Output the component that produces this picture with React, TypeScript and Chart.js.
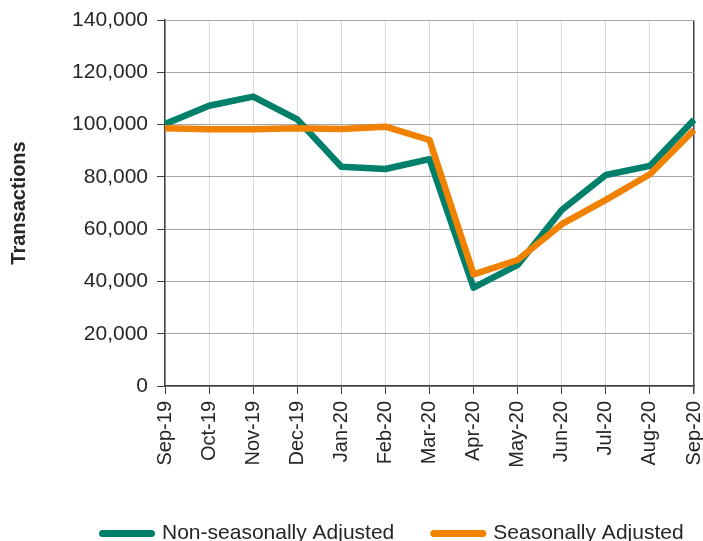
import React, { useEffect, useRef } from "react";
import { Chart, registerables } from "chart.js";

Chart.register(...registerables);

const categories = ["Sep-19", "Oct-19", "Nov-19", "Dec-19", "Jan-20", "Feb-20", "Mar-20", "Apr-20", "May-20", "Jun-20", "Jul-20", "Aug-20", "Sep-20"];
const nonSeasonal = [100200, 107200, 110700, 102000, 83900, 83000, 86800, 37600, 46300, 67300, 80700, 84200, 101800];
const seasonal = [98600, 98200, 98200, 98600, 98300, 99200, 94100, 42700, 48200, 61900, 71200, 81000, 97900];
const seriesNames = ["Non-seasonally Adjusted", "Seasonally Adjusted"];
const yTitle = "Transactions";

const GREEN = "#00806A";
const ORANGE = "#F08200";
const TEXT = "#262626";
const AXIS = "#404040";
const FONT = "'Liberation Sans', Arial, sans-serif";

const legendPos = {
  id: "legendPos",
  afterLayout(chart: any) {
    const l = chart.legend;
    if (!l) return;
    const h = l.height;
    l.left = 63;
    l.right = 1000;
    l.top = 483.5;
    l.bottom = l.top + h;
  },
};

export default function App() {
  const ref = useRef<HTMLCanvasElement | null>(null);
  useEffect(() => {
    if (!ref.current) return;
    const chart = new Chart(ref.current, {
      type: "line",
      data: {
        labels: categories,
        datasets: [
          {
            label: seriesNames[0],
            data: nonSeasonal,
            borderColor: GREEN,
            backgroundColor: GREEN,
            borderWidth: 6.5,
            pointRadius: 0,
            tension: 0,
            borderJoinStyle: "round",
            order: 1,
          },
          {
            label: seriesNames[1],
            data: seasonal,
            borderColor: ORANGE,
            backgroundColor: ORANGE,
            borderWidth: 6.5,
            pointRadius: 0,
            tension: 0,
            borderJoinStyle: "round",
            order: 0,
          },
        ],
      },
      options: {
        responsive: false,
        animation: false,
        layout: { padding: { left: 0, right: 9, top: 20, bottom: 0 } },
        plugins: {
          tooltip: { enabled: false },
          legend: {
            position: "bottom",
            align: "start",
            labels: {
              boxWidth: 49,
              boxHeight: 0,
              padding: 39.5,
              color: TEXT,
              font: { family: FONT, size: 21 },
              generateLabels: (c: any) =>
                c.data.datasets.map((d: any, i: number) => ({
                  text: d.label,
                  fillStyle: d.borderColor,
                  strokeStyle: d.borderColor,
                  lineWidth: 7,
                  lineJoin: "round",
                  lineCap: "round",
                  hidden: false,
                  datasetIndex: i,
                  fontColor: TEXT,
                })),
            },
          },
        },
        scales: {
          x: {
            type: "category",
            offset: false,
            afterFit: (s: any) => {
              s.height = 84.5;
              s.paddingLeft = 0;
              s.paddingRight = 0;
            },
            grid: {
              color: (ctx: any) => (ctx.index === categories.length - 1 ? AXIS : "#D9D9D9"),
              lineWidth: (ctx: any) => (ctx.index === categories.length - 1 ? 1.5 : 1),
              tickColor: AXIS,
              tickLength: 8,
              drawTicks: true,
            },
            border: { display: true, color: AXIS, width: 1.5 },
            ticks: {
              autoSkip: false,
              maxRotation: 90,
              minRotation: 90,
              padding: 7,
              color: TEXT,
              font: { family: FONT, size: 20 },
            },
          },
          y: {
            min: 0,
            max: 140000,
            afterFit: (s: any) => {
              s.width = 165;
              s.paddingTop = 0;
              s.paddingBottom = 0;
            },
            title: {
              display: true,
              text: yTitle,
              color: TEXT,
              padding: { top: 7, bottom: 0 },
              font: { family: FONT, size: 20, weight: "bold" },
            },
            grid: {
              color: "#A6A6A6",
              lineWidth: 1,
              tickColor: AXIS,
              tickLength: 8,
            },
            border: { display: true, color: AXIS, width: 1.5 },
            ticks: {
              stepSize: 20000,
              padding: 9,
              color: TEXT,
              font: { family: FONT, size: 21 },
              callback: (v: any) => Number(v).toLocaleString("en-US"),
            },
          },
        },
      },
      plugins: [legendPos],
    });
    return () => chart.destroy();
  }, []);
  return (
    <div style={{ position: "absolute", left: 0, top: 0, width: 703, height: 541, overflow: "hidden", background: "#fff" }}>
      <canvas ref={ref} width={703} height={541} style={{ display: "block" }} />
    </div>
  );
}
